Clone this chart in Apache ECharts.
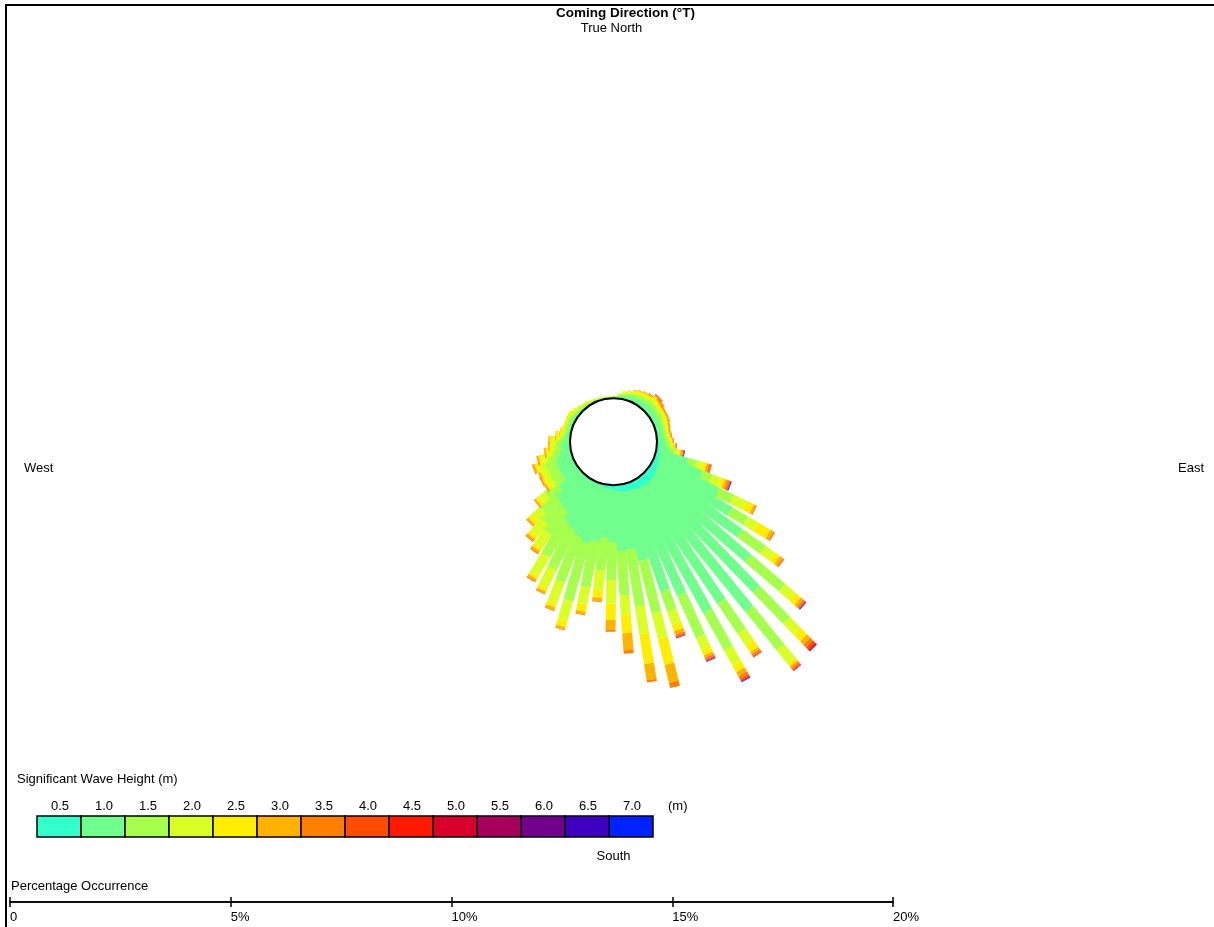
<!DOCTYPE html>
<html>
<head>
<meta charset="utf-8">
<script src="https://cdn.jsdelivr.net/npm/echarts@6/dist/echarts.min.js"></script>
<style>
html,body{margin:0;padding:0;background:#fff;}
#chart{width:1214px;height:927px;}
</style>
</head>
<body>
<div id="chart"></div>
<script>
// Direction bins (coming direction, degrees True), 5-degree sectors
const directions = [0,5,10,15,20,25,30,35,40,45,50,55,
  60,65,70,75,80,85,90,95,100,105,110,115,
  120,125,130,135,140,145,150,155,160,165,170,175,
  180,185,190,195,200,205,210,215,220,225,230,235,
  240,245,250,255,260,265,270,275,280,285,290,295,
  300,305,310,315,320,325,330,335,340,345,350,355];

// Significant wave height classes (upper limits, m)
const hsLabels = ['0.5','1.0','1.5','2.0','2.5','3.0','3.5','4.0','4.5','5.0','5.5','6.0','6.5','7.0'];
const hsColors = ['#33FFCC','#70FF8C','#A6FF4D','#D9FF26','#FFEE00','#FFB300','#FF7F00','#FF4D00','#FF1A00','#D9002B','#A6005A','#73008C','#4000C0','#0022FF'];

// Cumulative percentage occurrence per direction with Hs <= class limit (null = no occurrence in that class)
const cumHs05 = [0.01,0.01,0.01,0.02,0.02,0.02,0.03,0.03,0.03,0.03,0.03,0.03,
  0.03,0.03,0.03,0.03,0.03,0.04,0.05,0.06,0.07,0.08,0.10,0.12,
  0.14,0.17,0.20,0.22,0.22,0.22,0.22,0.20,0.19,0.18,0.16,0.14,
  0.12,0.10,0.08,0.06,0.05,0.04,0.04,0.04,0.04,0.03,0.03,0.03,
  0.03,0.03,0.03,0.03,0.02,0.02,0.02,0.02,0.02,0.02,0.02,0.02,
  0.02,0.02,0.02,0.01,0.01,0.01,0.01,0.01,0.01,0.01,0.01,0.01];
const cumHs10 = [0.03,0.03,0.06,0.08,0.10,0.12,0.13,0.14,0.15,0.17,0.17,0.16,
  0.16,0.16,0.15,0.15,0.15,0.16,0.18,0.22,0.30,0.75,1.14,1.63,
  2.09,2.55,3.05,3.66,3.89,3.38,3.41,2.80,2.58,1.78,1.48,1.50,
  1.30,1.20,1.30,1.40,1.30,1.20,1.10,0.90,0.85,0.80,0.60,0.40,
  0.40,0.38,0.40,0.34,0.25,0.20,0.20,0.14,0.10,0.08,0.08,0.08,
  0.09,0.07,0.06,0.05,0.05,0.04,0.03,0.03,0.03,0.02,0.02,0.02];
const cumHs15 = [0.04,0.04,0.09,0.12,0.15,0.18,0.20,0.22,0.23,0.27,0.26,0.24,
  0.24,0.24,0.22,0.21,0.21,0.22,0.25,0.30,0.42,0.95,1.38,2.00,
  2.51,3.20,4.07,4.65,5.02,4.19,4.36,3.85,3.05,3.00,2.79,2.50,
  2.15,1.94,2.37,2.75,2.40,2.20,2.00,1.55,1.40,1.25,0.95,0.62,
  0.63,0.60,0.65,0.54,0.40,0.32,0.32,0.22,0.16,0.13,0.13,0.13,
  0.15,0.12,0.10,0.08,0.08,0.07,0.05,0.05,0.05,0.04,0.04,0.03];
const cumHs20 = [0.05,0.05,0.11,0.16,0.19,0.23,0.26,0.28,0.29,0.34,0.32,0.30,
  0.30,0.30,0.28,0.27,0.26,0.27,0.30,0.36,0.50,1.10,1.58,2.32,
  2.76,3.45,4.36,4.99,5.40,4.50,4.76,4.13,3.36,3.60,3.41,2.95,
  2.68,2.39,2.75,3.21,2.90,2.65,2.50,1.92,1.75,1.50,1.12,0.76,
  0.77,0.75,0.80,0.68,0.50,0.42,0.41,0.29,0.21,0.17,0.17,0.17,
  0.19,0.16,0.13,0.11,0.11,0.09,0.07,0.07,0.06,0.05,0.05,0.04];
const cumHs25 = [null,null,0.12,0.18,0.21,0.26,0.30,0.32,0.33,0.39,0.36,0.34,
  0.34,0.34,0.32,0.30,0.29,0.30,0.34,0.40,0.55,1.18,1.68,2.49,
  3.09,3.59,4.53,5.20,5.48,4.70,4.93,4.27,3.52,4.20,4.10,3.36,
  3.05,2.56,2.92,3.36,3.00,2.74,2.58,2.00,1.85,1.60,1.20,0.82,
  0.83,0.81,0.87,0.74,0.56,0.47,0.46,0.32,0.24,0.20,0.20,0.20,
  0.22,0.18,0.15,0.12,0.12,0.10,0.08,null,null,null,null,null];
const cumHs30 = [null,null,null,null,0.22,0.28,0.32,0.34,0.36,0.42,0.39,0.36,
  0.37,0.37,0.34,0.32,0.31,0.32,0.36,0.42,0.58,1.23,1.74,2.54,
  3.17,3.66,4.60,5.31,5.53,4.76,5.03,4.33,3.60,4.62,4.47,3.75,
  3.27,2.64,2.98,3.41,3.06,2.79,2.63,2.06,1.90,1.64,1.23,0.85,
  0.86,0.84,0.91,0.77,0.59,0.50,0.49,0.34,0.25,null,null,null,
  null,null,null,null,null,null,null,null,null,null,null,null];
const cumHs35 = [null,null,null,null,null,null,null,0.35,0.38,0.44,0.41,0.38,
  0.38,0.38,0.35,0.33,0.32,0.33,0.37,0.43,0.60,1.27,1.78,2.57,
  3.21,3.70,4.64,5.39,5.57,4.80,5.10,4.37,3.64,4.74,4.52,3.82,
  3.32,2.66,3.00,3.43,3.08,2.81,2.66,2.09,1.93,1.66,1.25,0.87,
  0.88,0.86,0.93,0.79,0.60,null,null,null,null,null,null,null,
  null,null,null,null,null,null,null,null,null,null,null,null];
const cumHs40 = [null,null,null,null,null,null,null,null,null,0.45,0.42,null,
  null,null,null,null,null,0.34,0.38,0.44,0.61,1.29,1.80,null,
  null,3.71,4.66,5.45,5.59,4.82,5.13,4.39,3.66,null,null,null,
  null,null,null,null,null,null,null,null,null,null,null,null,
  null,null,null,null,null,null,null,null,null,null,null,null,
  null,null,null,null,null,null,null,null,null,null,null,null];
const cumHs45 = [null,null,null,null,null,null,null,null,null,0.46,null,null,
  null,null,null,null,null,null,null,0.45,0.62,1.30,1.81,null,
  null,null,4.67,5.49,5.605,4.84,5.15,4.40,3.67,null,null,null,
  null,null,null,null,null,null,null,null,null,null,null,null,
  null,null,null,null,null,null,null,null,null,null,null,null,
  null,null,null,null,null,null,null,null,null,null,null,null];
const cumHs50 = [null,null,null,null,null,null,null,null,null,null,null,null,
  null,null,null,null,null,null,null,null,0.625,null,1.815,null,
  null,null,4.675,5.52,5.62,null,5.16,4.41,3.675,null,null,null,
  null,null,null,null,null,null,null,null,null,null,null,null,
  null,null,null,null,null,null,null,null,null,null,null,null,
  null,null,null,null,null,null,null,null,null,null,null,null];
const cumHs55 = [null,null,null,null,null,null,null,null,null,null,null,null,
  null,null,null,null,null,null,null,null,0.63,null,1.82,null,
  null,null,4.68,null,null,null,5.17,4.415,3.69,null,null,null,
  null,null,null,null,null,null,null,null,null,null,null,null,
  null,null,null,null,null,null,null,null,null,null,null,null,
  null,null,null,null,null,null,null,null,null,null,null,null];
const cumHs60 = [null,null,null,null,null,null,null,null,null,null,null,null,
  null,null,null,null,null,null,null,null,0.645,null,1.84,null,
  null,null,4.70,null,null,null,5.19,4.43,null,null,null,null,
  null,null,null,null,null,null,null,null,null,null,null,null,
  null,null,null,null,null,null,null,null,null,null,null,null,
  null,null,null,null,null,null,null,null,null,null,null,null];

// Percentage occurrence scale ticks
const scaleTicks = [0,5,10,15,20];

const cumClasses = [cumHs05,cumHs10,cumHs15,cumHs20,cumHs25,cumHs30,cumHs35,cumHs40,cumHs45,cumHs50,cumHs55,cumHs60];

const FONT = '"Liberation Sans", Arial, sans-serif';
const CX = 613.5, CY = 441.7, HUB = 43.5, PX_PER_PCT = 44.15, RMAX = 6;
const BAR_W = 10;

const chart = echarts.init(document.getElementById('chart'), null, {renderer: 'canvas'});

const barData = directions.map((d, i) => {
  let tot = 0;
  cumClasses.forEach(a => { if (a[i] != null && a[i] > tot) tot = a[i]; });
  return [tot, d, i];
});

function renderBar(params, api) {
  const i = api.value(2);
  const dir = directions[i];
  const a = api.coord([0, dir]);
  const b = api.coord([1, dir]);
  let ux = b[0] - a[0], uy = b[1] - a[1];
  const L = Math.hypot(ux, uy); ux /= L; uy /= L;
  const nx = -uy * BAR_W / 2, ny = ux * BAR_W / 2;
  const children = [];
  let prev = 0;
  for (let k = 0; k < cumClasses.length; k++) {
    const v = cumClasses[k][i];
    if (v == null || v <= prev) continue;
    const p1 = api.coord([prev, dir]);
    const p2 = api.coord([v, dir]);
    children.push({
      type: 'polygon',
      shape: {points: [[p1[0]+nx, p1[1]+ny],[p2[0]+nx, p2[1]+ny],[p2[0]-nx, p2[1]-ny],[p1[0]-nx, p1[1]-ny]]},
      style: {fill: hsColors[k], stroke: null}
    });
    prev = v;
  }
  return {type: 'group', children};
}

function txt(text, x, y, opts) {
  opts = opts || {};
  return {
    type: 'text', z: 110,
    style: {
      text, x, y,
      font: (opts.bold ? 'bold ' : '') + (opts.size || 13) + 'px ' + FONT,
      fill: '#000',
      textAlign: opts.align || 'left', align: opts.align || 'left',
      textVerticalAlign: 'middle', verticalAlign: 'middle'
    }
  };
}

const graphics = [
  {type: 'line', z: 110, shape: {x1: 6, y1: 4, x2: 6, y2: 927}, style: {stroke: '#000', lineWidth: 2}},
  {type: 'line', z: 110, shape: {x1: 5, y1: 5, x2: 1214, y2: 5}, style: {stroke: '#000', lineWidth: 2}},
  {type: 'circle', z: 100, shape: {cx: CX, cy: CY, r: HUB}, style: {fill: '#fff', stroke: '#000', lineWidth: 2}},
  txt('Coming Direction (°T)', 625.5, 13, {bold: true, align: 'center', size: 13.5}),
  txt('True North', 611.5, 28.5, {align: 'center'}),
  txt('West', 24, 468),
  txt('East', 1178, 468),
  txt('South', 613.5, 856, {align: 'center'}),
  txt('Significant Wave Height (m)', 17, 779),
  txt('(m)', 668, 806),
  txt('Percentage Occurrence', 11, 886)
];
hsLabels.forEach((lab, k) => {
  const x0 = 37 + 44 * k;
  graphics.push({type: 'rect', z: 105, shape: {x: x0, y: 816, width: 44, height: 21},
    style: {fill: hsColors[k], stroke: '#000', lineWidth: 1.5}});
  graphics.push(txt(lab, x0 + 23, 806.5, {align: 'center'}));
});

chart.setOption({
  animation: false,
  backgroundColor: '#fff',
  polar: {center: [CX, CY], radius: [HUB, HUB + RMAX * PX_PER_PCT]},
  angleAxis: {type: 'value', min: 0, max: 360, startAngle: 89.1, clockwise: true,
    axisLine: {show: false}, axisTick: {show: false}, axisLabel: {show: false}, splitLine: {show: false}},
  radiusAxis: {type: 'value', min: 0, max: RMAX,
    axisLine: {show: false}, axisTick: {show: false}, axisLabel: {show: false}, splitLine: {show: false}},
  grid: {left: 10, width: 883, top: 902, height: 0},
  xAxis: [
    {type: 'value', position: 'bottom', min: scaleTicks[0], max: scaleTicks[scaleTicks.length-1], interval: 5,
      axisLine: {show: true, lineStyle: {color: '#000', width: 1.5}},
      axisTick: {show: true, length: 5, lineStyle: {color: '#000', width: 1.5}},
      splitLine: {show: false},
      axisLabel: {show: true, align: 'left', margin: 9, color: '#000', fontSize: 13, fontFamily: FONT,
        formatter: v => (v === 0 ? '0' : v + '%')}},
    {type: 'value', position: 'top', min: scaleTicks[0], max: scaleTicks[scaleTicks.length-1], interval: 5,
      axisLine: {show: true, lineStyle: {color: '#000', width: 1.5}},
      axisTick: {show: true, length: 5, lineStyle: {color: '#000', width: 1.5}},
      splitLine: {show: false}, axisLabel: {show: false}}
  ],
  yAxis: {type: 'value', min: 0, max: 1, show: false},
  series: [{
    type: 'custom',
    coordinateSystem: 'polar',
    encode: {radius: 0, angle: 1},
    data: barData,
    renderItem: renderBar,
    silent: true
  }],
  graphic: graphics
});
</script>
</body>
</html>
